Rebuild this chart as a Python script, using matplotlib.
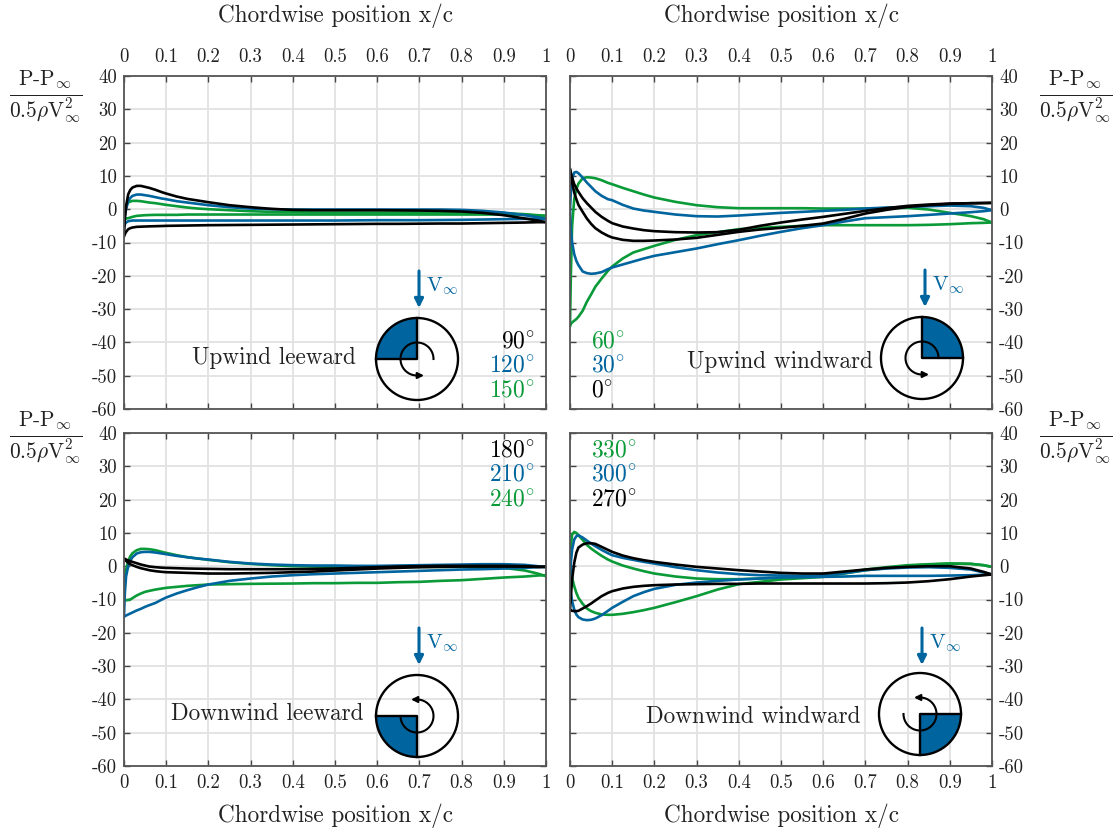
import numpy as np
import matplotlib
matplotlib.use('Agg')
import matplotlib.pyplot as plt
from matplotlib.patches import Circle, Wedge

plt.rcParams['font.family'] = ['cmr10', 'DejaVu Serif']
plt.rcParams['mathtext.fontset'] = 'cm'
plt.rcParams['axes.unicode_minus'] = False

# chord stations, same for all the curves
xc = [0, .002, .005, .01, .015, .02,
      .03, .04, .05, .06, .075, .09, .1, .125, .15, .175, .2,
      .25, .3, .35, .4, .45, .5, .55, .6, .65, .7, .75, .8, .85, .9, .95, .98, 1]

# upwind leeward
a90_up = [-8, -3, 1, 4.5, 5.8, 6.5,
          7, 7, 6.7, 6.4, 5.8, 5.1, 4.7, 3.8, 3.1, 2.6, 2.1,
          1.2, .6, .1, -.2, -.3, -.3, -.3, -.3, -.35, -.4, -.5, -.7, -1.1, -1.8, -2.8, -3.4, -3.9]
a90_lo = [-8, -7.5, -6.8, -6, -5.7, -5.5,
          -5.3, -5.25, -5.2, -5.15, -5.1, -5.05, -5, -4.95, -4.9, -4.85, -4.8,
          -4.75, -4.7, -4.65, -4.6, -4.55, -4.5, -4.45, -4.4, -4.4, -4.35, -4.3, -4.3, -4.2, -4.1, -4, -3.9, -3.9]
a120_up = [-5, -2, 0, 2.5, 3.4, 4,
           4.4, 4.4, 4.2, 4, 3.6, 3.2, 3, 2.4, 2, 1.6, 1.2,
           .6, .2, 0, -.1, -.1, -.1, -.1, -.1, -.1, -.1, -.1, -.2, -.5, -1, -1.8, -2.4, -2.9]
a120_lo = [-5, -4.5, -4, -3.6, -3.5, -3.4,
           -3.4, -3.4, -3.4, -3.4, -3.4, -3.4, -3.4, -3.4, -3.4, -3.4, -3.4,
           -3.4, -3.4, -3.4, -3.4, -3.4, -3.4, -3.35, -3.3, -3.3, -3.3, -3.25, -3.2, -3.1, -3, -2.9, -2.9, -2.9]
a150_up = [-2.5, -.5, 1, 2, 2.3, 2.5,
           2.5, 2.4, 2.2, 2, 1.8, 1.5, 1.3, .9, .5, .2, 0,
           -.3, -.6, -.8, -.9, -1, -1, -1, -1, -1, -1, -1, -1, -1.1, -1.2, -1.5, -1.8, -2]
a150_lo = [-2.5, -2.7, -2.8, -2.7, -2.5, -2.3,
           -2, -1.9, -1.8, -1.75, -1.7, -1.7, -1.7, -1.7, -1.6, -1.6, -1.6,
           -1.6, -1.6, -1.6, -1.6, -1.6, -1.6, -1.6, -1.6, -1.6, -1.6, -1.6, -1.6, -1.6, -1.6, -1.7, -1.9, -2]

# upwind windward
a0_up = [12, 11, 9.5, 7.5, 6.3, 5.2,
         3.3, 1.8, .5, -.8, -2.3, -3.5, -4.2, -5.2, -5.8, -6.3, -6.6,
         -6.9, -7, -6.9, -6.2, -5, -4, -3.1, -2.3, -1.4, -.5, .3, 1, 1.4, 1.7, 1.8, 1.85, 1.9]
a0_lo = [12, 10.5, 8, 5, 3, 1.3,
         -.8, -2.8, -4.4, -5.7, -7, -8, -8.5, -9.2, -9.5, -9.5, -9.4,
         -9.1, -8.6, -7.7, -6.8, -6.1, -5.6, -5, -4.3, -2.9, -1.3, -.2, .7, 1.2, 1.6, 1.8, 1.85, 1.9]
a30_up = [0, 5, 9, 11, 11.2, 10.8,
          9.5, 8, 6.7, 5.4, 4, 3, 2.7, 1.3, .2, -.4, -.8,
          -1.6, -2.1, -2.2, -1.9, -1.5, -1.1, -.8, -.5, -.2, .2, .5, .7, .9, 1.1, .9, .4, -.3]
a30_lo = [0, -6, -10, -13.5, -15.5, -16.8,
          -18.7, -19.2, -19.4, -19.3, -18.9, -18, -17.5, -16.6, -15.7, -14.8, -14,
          -12.9, -11.8, -10.5, -9.3, -8, -6.8, -5.7, -4.8, -3.7, -2.7, -2.4, -2.1, -1.7, -1.3, -.9, -.6, -.3]
a60_up = [-35, -20, -5, 3, 6, 7.7,
          9.3, 9.6, 9.5, 9.3, 8.7, 7.9, 7.5, 6.4, 5.4, 4.4, 3.5,
          2.2, 1.2, .6, .3, .3, .3, .3, .2, .2, .2, .3, .4, -.1, -1.1, -2.1, -3, -4]
a60_lo = [-35, -34.5, -34, -33.5, -33, -32.3,
          -30.5, -27.8, -25.6, -23.3, -20.8, -18.5, -17.2, -14.8, -13, -12, -11,
          -9.2, -7.8, -6.9, -6, -5.6, -5.3, -5, -4.8, -4.8, -4.8, -4.8, -4.8, -4.7, -4.5, -4.2, -4.1, -4]

# downwind leeward
a180_up = [2.3, 2.2, 2, 1.7, 1.5, 1.3,
           .9, .5, .2, -.1, -.3, -.45, -.5, -.6, -.7, -.75, -.8,
           -.9, -.9, -.9, -.9, -.8, -.7, -.5, -.3, -.1, 0, .1, .1, .1, .1, 0, -.2, -.2]
a180_lo = [2.3, 2, 1.6, 1, .6, .3,
           -.2, -.6, -.9, -1.2, -1.5, -1.7, -1.8, -1.9, -2, -2.1, -2.2,
           -2.2, -2.1, -2, -1.8, -1.6, -1.3, -1, -.7, -.5, -.3, -.2, -.1, -.1, -.1, -.1, -.2, -.2]
a210_up = [-15, -8, -3, 0, 1.7, 2.7,
           3.8, 4.2, 4.3, 4.3, 4.1, 3.8, 3.6, 3.1, 2.7, 2.3, 2,
           1.3, .8, .5, .3, .2, .2, .1, .1, .2, .3, .4, .5, .6, .6, .4, 0, -.2]
a210_lo = [-15.2, -15, -14.8, -14.5, -14.2, -13.9,
           -13.3, -12.8, -12.2, -11.7, -11, -10, -9.4, -8.2, -7.2, -6.3, -5.5,
           -4.4, -3.7, -3.1, -2.7, -2.4, -2.2, -2, -1.8, -1.6, -1.4, -1.2, -1, -.9, -.7, -.5, -.3, -.2]
a240_up = [-10, -5, -1, 1.5, 3, 3.9,
           4.8, 5.2, 5.2, 5.1, 4.8, 4.3, 4, 3.3, 2.7, 2.3, 1.9,
           1.2, .7, .3, 0, -.1, -.2, -.2, -.2, -.2, -.2, -.2, -.2, -.3, -.5, -1.3, -2.2, -3]
a240_lo = [-10.2, -10.2, -10.2, -10.1, -10, -9.6,
           -8.8, -8.2, -7.7, -7.4, -7, -6.7, -6.5, -6.2, -5.9, -5.7, -5.5,
           -5.4, -5.3, -5.25, -5.2, -5.1, -5.1, -5, -5, -4.8, -4.7, -4.4, -4.2, -3.8, -3.4, -3.1, -2.8, -2.7]

# downwind windward
a270_up = [-13, -9, -4, 1, 4, 5.6,
           6.5, 6.9, 6.9, 6.7, 5.8, 4.9, 4.3, 3.2, 2.4, 1.8, 1.3,
           .5, -.2, -.7, -1.2, -1.6, -2, -2.2, -2.2, -1.6, -1, -.5, -.2, 0, 0, -.7, -1.7, -2.5]
a270_lo = [-13, -13.2, -13.4, -13.5, -13.5, -13.4,
           -12.7, -12, -11.2, -10.3, -9, -8, -7.5, -6.7, -6.2, -5.9, -5.7,
           -5.5, -5.4, -5.3, -5.3, -5.2, -5.2, -5.2, -5.2, -5.2, -5.2, -5.1, -4.9, -4.5, -3.9, -3.1, -2.7, -2.5]
a300_up = [-5, 1, 5, 8, 9, 9.3,
           8.6, 7.7, 6.8, 6, 4.9, 3.9, 3.3, 2.5, 1.9, 1.3, .8,
           -.3, -1.2, -1.9, -2.4, -2.7, -2.8, -2.9, -2.8, -2.1, -1.2, -.7, -.4, -.3, -.5, -1, -1.9, -2.5]
a300_lo = [-5, -8, -10.5, -13, -14.5, -15.3,
           -16, -16.2, -16.1, -15.7, -14.7, -13.4, -12.5, -10.7, -9, -7.8, -6.8,
           -5.6, -4.9, -4.4, -4, -3.7, -3.4, -3.3, -3.2, -3.1, -2.9, -2.9, -2.9, -2.9, -2.8, -2.7, -2.6, -2.5]
a330_up = [0, 6, 9.5, 10.3, 10, 9.3,
           7.9, 6.4, 5.3, 4.4, 3.1, 2, 1.4, .2, -.7, -1.5, -2.2,
           -3.1, -3.7, -3.9, -3.9, -3.7, -3.5, -3.3, -3, -2, -1, -.3, .3, .6, .8, .7, .3, -.2]
a330_lo = [0, -1.5, -3.5, -6, -8, -9.5,
           -11.3, -12.7, -13.5, -14, -14.5, -14.6, -14.6, -14.3, -13.8, -13.2, -12.5,
           -10.8, -9, -7, -5.4, -4.7, -4, -3.6, -3.2, -2.2, -1.2, -.6, .1, .5, .8, .7, .3, -.2]

blue = '#00649e'
green = '#0a9a38'
black = '#000000'
txt = '#222222'

xticks = [0, .1, .2, .3, .4, .5, .6, .7, .8, .9, 1]
xlabs = ['0', '0.1', '0.2', '0.3', '0.4', '0.5', '0.6', '0.7', '0.8', '0.9', '1']
yticks = [-60, -50, -40, -30, -20, -10, 0, 10, 20, 30, 40]
ylabs = ['-60', '-50', '-40', '-30', '-20', '-10', '0', '10', '20', '30', '40']

W, H = 1116, 834
fig = plt.figure(figsize=(W / 100, H / 100), dpi=100)


def new_ax(left, top):
    ax = fig.add_axes([left / W, 1 - (top + 333) / H, 422 / W, 333 / H])
    ax.set_xlim(0, 1)
    ax.set_ylim(-60, 40)
    ax.set_xticks(xticks)
    ax.set_yticks(yticks)
    ax.grid(color='#e2e2e2', lw=1.3)
    ax.set_axisbelow(True)
    for s in ax.spines.values():
        s.set_color('#555555')
        s.set_linewidth(1.3)
    ax.tick_params(direction='in', length=4, width=1, color='#444444', labelsize=13.5,
                   labelcolor=txt, top=True, right=True, pad=5)
    ax.tick_params(axis='x', pad=7)
    ax.set_xticklabels(xlabs)
    ax.set_yticklabels(ylabs)
    return ax


def curves(ax, groups):
    for up, lo, c in groups:
        ax.plot(xc, up, color=c, lw=1.9)
        ax.plot(xc, lo, color=c, lw=1.9)


ax1 = new_ax(124, 76)
ax2 = new_ax(570, 76)
ax3 = new_ax(124, 433)
ax4 = new_ax(570, 433)

curves(ax1, [(a150_up, a150_lo, green), (a120_up, a120_lo, blue), (a90_up, a90_lo, black)])
curves(ax2, [(a60_up, a60_lo, green), (a30_up, a30_lo, blue), (a0_up, a0_lo, black)])
curves(ax3, [(a240_up, a240_lo, green), (a210_up, a210_lo, blue), (a180_up, a180_lo, black)])
curves(ax4, [(a330_up, a330_lo, green), (a300_up, a300_lo, blue), (a270_up, a270_lo, black)])

ax1.tick_params(labeltop=True, labelbottom=False)
ax2.tick_params(labeltop=True, labelbottom=False, labelleft=False, labelright=True)
ax3.tick_params(labelbottom=True)
ax4.tick_params(labelbottom=True, labelleft=False, labelright=True)
ax3.tick_params(axis='x', pad=6)
ax4.tick_params(axis='x', pad=6)

# overlay in pixel coords for labels and the little icons
ov = fig.add_axes([0, 0, 1, 1])
ov.set_xlim(0, W)
ov.set_ylim(H, 0)
ov.axis('off')
ov.patch.set_alpha(0)

for x in [335, 781]:
    ov.text(x, 16, 'Chordwise position x/c', fontsize=16.7, ha='center', va='center', color=txt)
    ov.text(x, 816, 'Chordwise position x/c', fontsize=16.7, ha='center', va='center', color=txt)

frac = r'$\frac{\mathrm{P\text{-}P}_{\infty}}{0.5\rho\mathrm{V}_{\infty}^{2}}$'
for x, y in [(46, 97), (1076, 97), (46, 438), (1076, 438)]:
    ov.text(x, y, frac, fontsize=22, ha='center', va='center', color=txt)

ov.text(274, 358, 'Upwind leeward', fontsize=16.7, ha='center', va='center', color=txt)
ov.text(780, 362, 'Upwind windward', fontsize=16.7, ha='center', va='center', color=txt)
ov.text(267, 714, 'Downwind leeward', fontsize=16.7, ha='center', va='center', color=txt)
ov.text(753, 717, 'Downwind windward', fontsize=16.7, ha='center', va='center', color=txt)


def angles(x, y, ha, labs):
    for i, (t, c) in enumerate(labs):
        ov.text(x, y + i * 24.5, t + r'$^{\circ}$', fontsize=17, color=c, ha=ha, va='center')


angles(535, 341, 'right', [('90', black), ('120', blue), ('150', green)])
angles(591, 341, 'left', [('60', green), ('30', blue), ('0', black)])
angles(535, 450, 'right', [('180', black), ('210', blue), ('240', green)])
angles(591, 450, 'left', [('330', green), ('300', blue), ('270', black)])


def icon(cx, cy, t1, t2, a1, a2, tipx, tipy, vx, vy):
    ov.add_patch(Wedge((cx, cy), 41, t1, t2, fc=blue, ec='none'))
    ov.add_patch(Circle((cx, cy), 41, fc='none', ec='k', lw=1.7))
    ov.plot([cx + 41 * np.cos(np.radians(t1)), cx, cx + 41 * np.cos(np.radians(t2))],
            [cy + 41 * np.sin(np.radians(t1)), cy, cy + 41 * np.sin(np.radians(t2))], color='k', lw=1.7)
    th = np.radians(np.linspace(a1, a2, 60))
    ov.plot(cx + 16.5 * np.cos(th), cy + 16.5 * np.sin(th), color='k', lw=1.5)
    ov.annotate('', xy=(tipx, tipy), xytext=(cx + 16.5 * np.cos(th[-1]), cy + 16.5 * np.sin(th[-1])),
                arrowprops=dict(arrowstyle='-|>', color='k', lw=1.5, mutation_scale=9, shrinkA=0, shrinkB=0))
    ov.annotate('', xy=(vx, vy + 37), xytext=(vx, vy),
                arrowprops=dict(arrowstyle='-|>', color=blue, lw=2.2, mutation_scale=13, shrinkA=0, shrinkB=0))
    ov.text(vx + 7, vy + 15, r'V$_{\infty}$', fontsize=15, color=blue, ha='left', va='center')


icon(417, 359, 180, 270, 0, -270, 424, 375.5, 419, 271)
icon(922, 358, 270, 360, 0, -270, 929, 374.5, 925, 270)
icon(417, 716, 90, 180, 180, -90, 411, 699.5, 419, 628)
icon(920, 714, 0, 90, 180, -90, 914, 697.5, 922, 628)

fig.savefig('out.png', dpi=100)
